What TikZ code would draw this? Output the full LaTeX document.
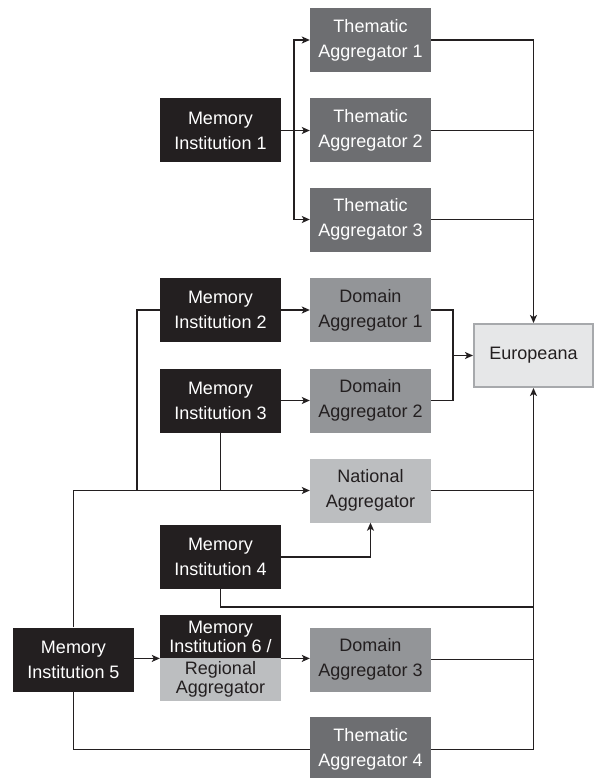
\documentclass[tikz,border=0pt]{standalone}
\usepackage{fontspec}
\setmainfont{Liberation Sans}
\usetikzlibrary{arrows.meta}
\definecolor{ink}{HTML}{231F20}
\definecolor{thmcol}{HTML}{6D6E71}
\definecolor{domcol}{HTML}{939598}
\definecolor{natcol}{HTML}{BCBEC0}
\definecolor{eufill}{HTML}{E6E7E8}
\definecolor{eudraw}{HTML}{A7A9AC}
\begin{document}
\begin{tikzpicture}[x=1pt,y=-1pt,
  box/.style={minimum width=121pt,minimum height=64pt,inner sep=0pt,align=center,
    font=\fontsize{18}{25}\selectfont},
  memb/.style={box,fill=ink,text=white},
  thmb/.style={box,fill=thmcol,text=white},
  domb/.style={box,fill=domcol,text=ink},
  natb/.style={box,fill=natcol,text=ink},
  conn/.style={draw=ink,line width=1.2pt},
  arr/.style={conn,-{Stealth[length=8pt,width=7pt,inset=2pt]}}
]
\useasboundingbox (0,0) rectangle (595,778);
\fill[white] (0,0) rectangle (595,778);

% nodes
\node[thmb] (ta1) at (370.5,40) {Thematic\\Aggregator 1};
\node[thmb] (ta2) at (370.5,130.5) {Thematic\\Aggregator 2};
\node[thmb] (ta3) at (370.5,219.5) {Thematic\\Aggregator 3};
\node[memb] (mi1) at (220.5,130.5) {Memory\\Institution 1};
\node[memb] (mi2) at (220.5,310) {Memory\\Institution 2};
\node[domb] (da1) at (370.5,310) {Domain\\Aggregator 1};
\node[memb] (mi3) at (220.5,400.5) {Memory\\Institution 3};
\node[domb] (da2) at (370.5,400.5) {Domain\\Aggregator 2};
\node[natb] (na) at (370.5,490.5) {National\\Aggregator};
\node[draw=eudraw,fill=eufill,line width=2pt,minimum width=119pt,minimum height=63pt,
  inner sep=0pt,text=ink,font=\fontsize{18}{25}\selectfont] (eu) at (533.5,355.5) {Europeana};
\node[memb] (mi4) at (220.5,557) {Memory\\Institution 4};
\node[memb] (mi5) at (73.5,659.5) {Memory\\Institution 5};
\node[box,minimum height=43pt,fill=ink,text=white,anchor=north,
  font=\fontsize{18}{19}\selectfont] (mi6a) at (220.5,615) {Memory\\Institution 6 /};
\node[box,minimum height=43pt,fill=natcol,text=ink,anchor=north,
  font=\fontsize{18}{19}\selectfont] (mi6b) at (220.5,658) {Regional\\Aggregator};
\node[domb] (da3) at (370.5,659.5) {Domain\\Aggregator 3};
\node[thmb,minimum height=65pt] (ta4) at (370.5,749.5) {Thematic\\Aggregator 4};

% MI1 fan-out
\coordinate (fan) at (294,130.5);
\draw[conn] (mi1.east) -- (fan);
\draw[arr] (fan) |- (ta1.west);
\draw[arr] (fan) -- (ta2.west);
\draw[arr] (fan) |- (ta3.west);

% thematic to Europeana
\draw[arr] (ta1.east) -| (eu.north);
\draw[conn] (ta2.east) -- (ta2.east -| eu.north);
\draw[conn] (ta3.east) -- (ta3.east -| eu.north);

% domain aggregators
\draw[arr] (mi2.east) -- (da1.west);
\draw[arr] (mi3.east) -- (da2.west);
\coordinate (dj) at (453,355.5);
\draw[conn] (da1.east) -| (dj);
\draw[conn] (da2.east) -| (dj);
\draw[arr] (dj) -- (eu.west);

% national aggregator feeds
\coordinate (l2) at (137,490.5);
\draw[conn] (mi2.west) -| (l2);
\draw[arr] (mi5.north) |- (na.west);
\draw[conn] (mi3.south) -- (mi3.south |- na.west);
\draw[conn] (na.east) -- (na.east -| eu.south);
\draw[arr] (mi4.east) -| (na.south);

% MI4 direct
\coordinate (r4) at (0,607);
\draw[conn] (mi4.south) |- (eu.south |- r4);

% MI5 / MI6 / DA3
\draw[arr] (mi5.east |- mi6a.south west) -- (mi6a.south west);
\draw[arr] (mi6a.south east) -- (mi6a.south east -| da3.west);
\draw[conn] (da3.east) -- (da3.east -| eu.south);

% bottom loop
\draw[conn] (mi5.south) |- (ta4.west);
\draw[arr] (ta4.east) -| (eu.south);
\end{tikzpicture}
\end{document}
